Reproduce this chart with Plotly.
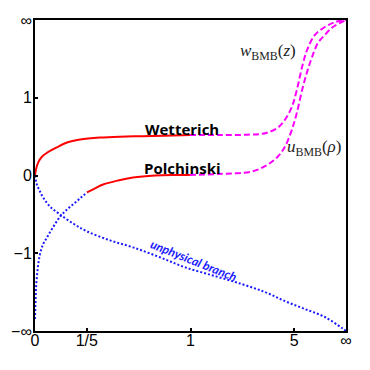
import plotly.graph_objects as go

# axes are compactified: X = x/(1+x), Y = y/(1+|y|)
x_tick_vals = [0, 1 / 6, 0.5, 5 / 6, 1]
x_tick_text = ["0", "1/5", "1", "5", "∞"]
y_tick_vals = [-1, -0.5, 0, 0.5, 1]
y_tick_text = ["−∞", "−1", "0", "1", "∞"]

wett_x = [0, 0.003, 0.010, 0.023, 0.039, 0.068, 0.103, 0.145, 0.209, 0.273, 0.347, 0.418, 0.498]
wett_y = [0, 0.038, 0.083, 0.122, 0.147, 0.179, 0.212, 0.231, 0.244, 0.250, 0.253, 0.256, 0.260]

wbmb_x = [0.498, 0.595, 0.691, 0.740, 0.781, 0.804, 0.826, 0.842, 0.859, 0.875, 0.900, 0.932, 0.965, 1.0]
wbmb_y = [0.260, 0.260, 0.263, 0.272, 0.308, 0.359, 0.442, 0.551, 0.699, 0.808, 0.904, 0.955, 0.987, 1.0]

polch_x = [0.167, 0.193, 0.219, 0.267, 0.315, 0.386, 0.450, 0.498]
polch_y = [-0.109, -0.083, -0.058, -0.032, -0.013, 0.0, 0.003, 0.003]

ubmb_x = [0.498, 0.588, 0.698, 0.749, 0.781, 0.804, 0.826, 0.842, 0.859, 0.875, 0.891, 0.910, 0.932, 0.958, 1.0]
ubmb_y = [0.003, 0.010, 0.026, 0.071, 0.122, 0.186, 0.295, 0.404, 0.551, 0.667, 0.763, 0.853, 0.904, 0.955, 1.0]

unphys_x = [0, 0.006, 0.016, 0.026, 0.048, 0.080, 0.122, 0.167, 0.241, 0.315, 0.402, 0.482,
            0.579, 0.666, 0.740, 0.804, 0.868, 0.932, 0.987, 1.0]
unphys_y = [0, -0.058, -0.103, -0.141, -0.199, -0.250, -0.308, -0.359, -0.417, -0.462, -0.526, -0.590,
            -0.647, -0.699, -0.750, -0.808, -0.859, -0.910, -0.981, -1.0]

rise_x = [0, 0.002, 0.003, 0.006, 0.010, 0.016, 0.026, 0.039, 0.058, 0.080, 0.100, 0.122, 0.145, 0.167]
rise_y = [-0.923, -0.795, -0.731, -0.654, -0.577, -0.506, -0.442, -0.397, -0.333, -0.266, -0.224, -0.186, -0.147, -0.109]

fig = go.Figure()


def add_line(xs, ys, color, dash):
    fig.add_trace(go.Scatter(x=xs, y=ys, mode="lines", line_shape="spline",
                             line=dict(color=color, width=2, dash=dash),
                             showlegend=False, hoverinfo="skip"))


add_line(unphys_x, unphys_y, "#1a1aff", "2px,2px")
add_line(rise_x, rise_y, "#1a1aff", "2px,2px")
add_line(wbmb_x, wbmb_y, "#ff00ff", "6px,3px")
add_line(ubmb_x, ubmb_y, "#ff00ff", "6px,3px")
add_line(wett_x, wett_y, "#ff0000", "solid")
add_line(polch_x, polch_y, "#ff0000", "solid")

bold = dict(family="Open Sans", size=15, color="black")
math = dict(family="Liberation Serif", size=17, color="#222222")
fig.add_annotation(x=0.473, y=0.301, text="<b>Wetterich</b>", showarrow=False, font=bold)
fig.add_annotation(x=0.473, y=0.048, text="<b>Polchinski</b>", showarrow=False, font=bold)
fig.add_annotation(x=0.749, y=0.795, text="<i>w</i><sub>BMB</sub>(<i>z</i>)", showarrow=False, font=math)
fig.add_annotation(x=0.897, y=0.179, text="<i>u</i><sub>BMB</sub>(<i>ρ</i>)", showarrow=False, font=math)
fig.add_annotation(x=0.511, y=-0.545, text="<b><i>unphysical branch</i></b>", showarrow=False,
                   textangle=22, font=dict(family="Lato", size=12, color="#1a1aff"))

axis = dict(showline=True, mirror=True, linewidth=2, linecolor="black", showgrid=False,
            zeroline=False, ticks="inside", ticklen=3, tickwidth=1.5, tickcolor="black",
            automargin=False,
            tickfont=dict(family="Liberation Sans", size=16, color="black"))
fig.update_xaxes(range=[0, 1], tickvals=x_tick_vals, ticktext=x_tick_text,
                 ticklabelstandoff=-6, **axis)
fig.update_yaxes(range=[-1, 1], tickvals=y_tick_vals, ticktext=y_tick_text,
                 ticklabelstandoff=-2, **axis)

# the page body adds an 8px offset, so the margins are shifted to keep the frame in place
fig.update_layout(width=370, height=370, margin=dict(l=27, r=32, t=12, b=47),
                  plot_bgcolor="white", paper_bgcolor="white")
fig.write_html("out.html")
